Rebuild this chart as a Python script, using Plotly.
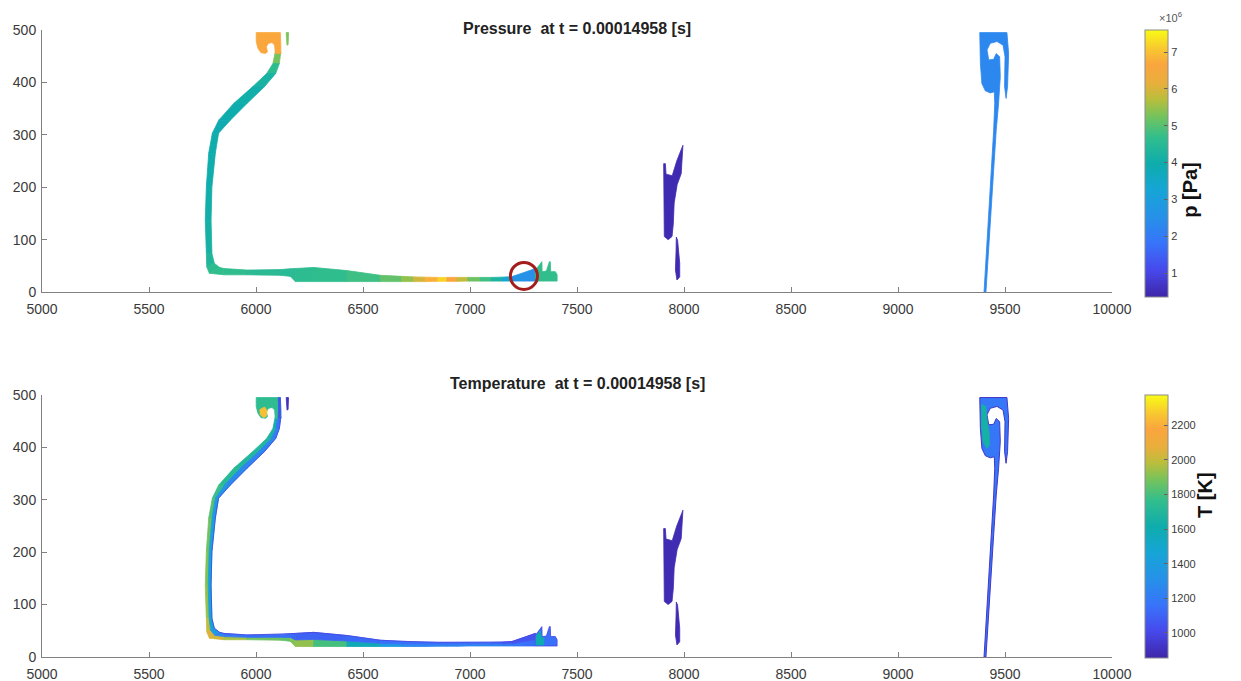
import plotly.graph_objects as go
from plotly.colors import sample_colorscale

# ---------------- colour map (MATLAB parula-like) ----------------
PARULA = [[0.00, 'rgb(62,38,168)'], [0.10, 'rgb(71,72,235)'], [0.20, 'rgb(56,115,250)'],
          [0.30, 'rgb(38,145,232)'], [0.40, 'rgb(22,165,215)'], [0.50, 'rgb(14,172,172)'],
          [0.60, 'rgb(50,190,140)'], [0.68, 'rgb(120,195,90)'], [0.74, 'rgb(185,190,60)'],
          [0.80, 'rgb(232,175,60)'], [0.87, 'rgb(250,165,62)'], [0.93, 'rgb(248,200,48)'],
          [1.00, 'rgb(249,251,21)']]

P_RANGE = [0.35, 7.6]        # pressure, x10^6 Pa
T_RANGE = [855, 2375]        # temperature, K
P_TICKS = [1, 2, 3, 4, 5, 6, 7]
T_TICKS = [1000, 1200, 1400, 1600, 1800, 2000, 2200]
X_TICKS = [5000, 5500, 6000, 6500, 7000, 7500, 8000, 8500, 9000, 9500, 10000]
X_LABELS = ['5000', '5500', '6000', '6500', '7000', '7500', '8000', '8500', '9000', '9500', '10000']
Y_TICKS = [0, 100, 200, 300, 400, 500]
TIME_S = "0.00014958"

# ---------------- main flame ribbon (outer edge A, inner edge B) ----------------
RIB_AX = [6090, 6079, 6050, 5985, 5896, 5826, 5796, 5779, 5768, 5763, 5768, 5770, 5782, 5850, 5958, 6114,
          6160, 6184, 6269, 6425, 6581, 6680, 6737, 6790, 6850, 6892, 6940, 6990, 7048, 7100, 7150, 7196,
          7250, 7305]
RIB_AY = [458, 436, 417, 392, 360, 328, 303, 265, 201, 137, 74, 48, 36, 33, 33, 32,
          30, 20, 20, 20, 20, 20, 20, 20, 20.5, 20.5, 20.5, 21, 21, 21, 21, 21,
          21, 21]
RIB_BX = [6116, 6109, 6092, 6040, 5958, 5880, 5825, 5810, 5794, 5790, 5794, 5805, 5830, 5850, 5958, 6114,
          6160, 6184, 6269, 6425, 6581, 6680, 6737, 6790, 6850, 6892, 6940, 6990, 7048, 7100, 7150, 7196,
          7250, 7305]
RIB_BY = [458, 436, 417, 392, 360, 328, 303, 265, 201, 137, 74, 55, 47, 45, 42, 43,
          44.5, 45, 47, 41, 32, 30, 29, 28.5, 28, 28, 28, 28, 28, 28, 28.5, 29.5,
          37, 45]
P_RIB = [5.6, 4.9, 4.3, 4.1, 4.0, 3.9, 3.9, 4.0, 4.0, 4.1, 4.2, 4.5, 4.7, 4.7, 4.6, 4.5,
         4.5, 4.6, 4.6, 4.7, 4.9, 5.3, 5.6, 6.3, 7.3, 7.1, 6.2, 5.4, 5.0, 4.6, 3.9, 2.8,
         2.5, 2.5]
T_RIB_A = [1550, 1650, 1700, 1700, 1700, 1750, 1800, 1850, 1900, 1900, 1950, 2050, 2050, 2000, 1900, 1850,
           1850, 1950, 1900, 1700, 1450, 1300, 1250, 1250, 1250, 1250, 1250, 1250, 1250, 1250, 1250, 1200,
           1150, 1150]
T_RIB_B = [1100, 1200, 1250, 1250, 1250, 1300, 1350, 1400, 1450, 1450, 1450, 1450, 1300, 1200, 1150, 1150,
           1150, 1100, 1100, 1100, 1150, 1150, 1150, 1150, 1150, 1150, 1150, 1150, 1150, 1150, 1100, 1050,
           1050, 1050]

# ---------------- other structures (outlines, data units) ----------------
HOOK_X = [6001, 6114, 6116, 6116, 6090, 6090, 6087, 6075, 6059, 6048, 6054, 6044, 6023, 6009, 6001]
HOOK_Y = [495, 495, 470, 455, 455, 462, 471, 476, 474.5, 468, 458.6, 455.4, 456.7, 465, 478]
HOOK_CORE_X = [6018, 6040, 6052, 6048, 6035, 6020]
HOOK_CORE_Y = [472, 477, 470, 459, 457, 462]
HOOK_EDGE_X = [6104, 6114, 6116, 6116, 6104, 6106]
HOOK_EDGE_Y = [495, 495, 470, 455, 455, 475]
P_HOOK, T_HOOK, T_HOOK_CORE, T_HOOK_EDGE = 6.7, 1750, 2250, 1050

SLIVER_X = [6141, 6152, 6150, 6145]
SLIVER_Y = [495, 495, 472, 471]
P_SLIVER, T_SLIVER = 5.3, 900

SPIKE_X = [7305, 7305, 7310, 7332, 7336, 7337, 7357, 7371, 7375, 7377, 7399, 7407, 7407]
SPIKE_Y = [21, 45, 44, 58, 58, 39, 40, 58, 58, 39, 39, 33, 21]
SPIKE_CORE_X = [7308, 7310, 7328, 7334, 7345, 7345]
SPIKE_CORE_Y = [23, 40, 50, 38, 36, 23]
P_SPIKE, T_SPIKE, T_SPIKE_CORE = 4.7, 1150, 1600

MID_BAR_X = [7905, 7913, 7916, 7945, 7966, 7995, 7987, 7968, 7954, 7950, 7944, 7926, 7908]
MID_BAR_Y = [245, 245, 225, 222, 250, 280, 226, 205, 170, 130, 106, 100, 106]
MID_LOW_X = [7964, 7970, 7980, 7980, 7967, 7960, 7963]
MID_LOW_Y = [105, 99, 55, 29, 23, 42, 80]
P_MID, T_MID = 0.45, 880

RIGHT_X = [9382, 9509, 9517, 9512, 9505, 9498, 9500, 9491, 9463, 9431, 9416, 9424, 9447, 9459, 9475, 9478,
           9470, 9459, 9447, 9431, 9419, 9411, 9402, 9410, 9422, 9436, 9447, 9452, 9450, 9431, 9408, 9392,
           9385, 9382]
RIGHT_Y = [495, 495, 455, 392, 369.5, 392, 449, 471, 478, 474.5, 462, 443, 444, 455, 449, 411,
           360, 309, 233, 137, 61, 0, 0, 61, 137, 233, 309, 360, 382, 380, 384, 398,
           436, 468]
RIGHT_PATCH_X = [9390, 9410, 9415, 9425, 9428, 9415, 9398, 9390]
RIGHT_PATCH_Y = [482, 478, 455, 430, 405, 398, 410, 440]
P_RIGHT, T_RIGHT, T_RIGHT_EDGE, T_RIGHT_PATCH = 2.3, 1180, 930, 1650

MARK_X, MARK_Y = [7252], [30.8]   # highlighted point (red circle)


def colour(v, rng):
    t = (v - rng[0]) / (rng[1] - rng[0])
    t = min(1.0, max(0.0, t))
    return sample_colorscale(PARULA, [t])[0]


fig = go.Figure()


def poly(xs, ys, v, rng, ax, edge=None, edgew=0.8):
    c = colour(v, rng)
    lc = colour(edge, rng) if edge is not None else c
    fig.add_trace(go.Scatter(x=list(xs) + [xs[0]], y=list(ys) + [ys[0]], mode='lines', fill='toself',
                             fillcolor=c, line=dict(color=lc, width=edgew), hoverinfo='skip',
                             showlegend=False, xaxis='x' + ax, yaxis='y' + ax))


def ribbon_pressure(ax):
    n = len(RIB_AX)
    for i in range(n - 1):
        xs = [RIB_AX[i], RIB_AX[i + 1], RIB_BX[i + 1], RIB_BX[i]]
        ys = [RIB_AY[i], RIB_AY[i + 1], RIB_BY[i + 1], RIB_BY[i]]
        poly(xs, ys, (P_RIB[i] + P_RIB[i + 1]) / 2, P_RANGE, ax)


def ribbon_temperature(ax):
    n = len(RIB_AX)
    mx = [(a + b) / 2 for a, b in zip(RIB_AX, RIB_BX)]
    my = [(a + b) / 2 for a, b in zip(RIB_AY, RIB_BY)]
    for i in range(n - 1):
        xs = [RIB_AX[i], RIB_AX[i + 1], mx[i + 1], mx[i]]
        ys = [RIB_AY[i], RIB_AY[i + 1], my[i + 1], my[i]]
        poly(xs, ys, (T_RIB_A[i] + T_RIB_A[i + 1]) / 2, T_RANGE, ax)
        xs = [mx[i], mx[i + 1], RIB_BX[i + 1], RIB_BX[i]]
        ys = [my[i], my[i + 1], RIB_BY[i + 1], RIB_BY[i]]
        poly(xs, ys, (T_RIB_B[i] + T_RIB_B[i + 1]) / 2, T_RANGE, ax)
    dark = colour(980, T_RANGE)
    fig.add_trace(go.Scatter(x=RIB_BX, y=RIB_BY, mode='lines', line=dict(color=dark, width=0.8),
                             hoverinfo='skip', showlegend=False, xaxis='x' + ax, yaxis='y' + ax))


# ---------- Pressure panel (axes x / y) ----------
ribbon_pressure('')
poly(HOOK_X, HOOK_Y, P_HOOK, P_RANGE, '')
poly(SLIVER_X, SLIVER_Y, P_SLIVER, P_RANGE, '')
poly(SPIKE_X, SPIKE_Y, P_SPIKE, P_RANGE, '')
poly(MID_BAR_X, MID_BAR_Y, P_MID, P_RANGE, '')
poly(MID_LOW_X, MID_LOW_Y, P_MID, P_RANGE, '')
poly(RIGHT_X, RIGHT_Y, P_RIGHT, P_RANGE, '')
fig.add_trace(go.Scatter(x=MARK_X, y=MARK_Y, mode='markers', hoverinfo='skip', showlegend=False,
                         marker=dict(symbol='circle-open', size=27, color='#a51c1c',
                                     line=dict(width=3, color='#a51c1c')), xaxis='x', yaxis='y'))
fig.add_trace(go.Scatter(x=[5000, 5000], y=[-100, -100], mode='markers', hoverinfo='skip', showlegend=False,
                         marker=dict(size=1, color=P_RANGE, coloraxis='coloraxis'), xaxis='x', yaxis='y'))

# ---------- Temperature panel (axes x2 / y2) ----------
ribbon_temperature('2')
poly(HOOK_X, HOOK_Y, T_HOOK, T_RANGE, '2')
poly(HOOK_CORE_X, HOOK_CORE_Y, T_HOOK_CORE, T_RANGE, '2')
poly(HOOK_EDGE_X, HOOK_EDGE_Y, T_HOOK_EDGE, T_RANGE, '2')
poly(SLIVER_X, SLIVER_Y, T_SLIVER, T_RANGE, '2')
poly(SPIKE_X, SPIKE_Y, T_SPIKE, T_RANGE, '2', edge=1000)
poly(SPIKE_CORE_X, SPIKE_CORE_Y, T_SPIKE_CORE, T_RANGE, '2')
poly(MID_BAR_X, MID_BAR_Y, T_MID, T_RANGE, '2')
poly(MID_LOW_X, MID_LOW_Y, T_MID, T_RANGE, '2')
poly(RIGHT_X, RIGHT_Y, T_RIGHT, T_RANGE, '2', edge=T_RIGHT_EDGE, edgew=1.0)
poly(RIGHT_PATCH_X, RIGHT_PATCH_Y, T_RIGHT_PATCH, T_RANGE, '2')
fig.add_trace(go.Scatter(x=[5000, 5000], y=[-100, -100], mode='markers', hoverinfo='skip', showlegend=False,
                         marker=dict(size=1, color=T_RANGE, coloraxis='coloraxis2'), xaxis='x2', yaxis='y2'))

# ---------------- layout ----------------
AX_COL = '#808080'
TICK_FONT = dict(family='Liberation Sans, Arial, sans-serif', size=14, color='#3a3a3a')


def xaxis(anchor):
    return dict(range=[5000, 10000], tickvals=X_TICKS, ticktext=X_LABELS, ticks='inside', ticklen=5,
                tickcolor=AX_COL, showline=True, linecolor=AX_COL, linewidth=1, showgrid=False,
                zeroline=False, tickfont=TICK_FONT, anchor=anchor, domain=[0, 1], fixedrange=True,
                ticklabelstandoff=4, automargin=False)


def yaxis(anchor, dom):
    return dict(range=[0, 500], tickvals=Y_TICKS, ticks='inside', ticklen=5, tickcolor=AX_COL,
                showline=True, linecolor=AX_COL, linewidth=1, showgrid=False, zeroline=False,
                tickfont=TICK_FONT, anchor=anchor, domain=dom, fixedrange=True, ticklabelstandoff=2,
                automargin=False)


def cbar(y, ln, ticks):
    return dict(x=1.0308, xanchor='left', y=y, yanchor='middle', len=ln, lenmode='pixels',
                thickness=23, thicknessmode='pixels', outlinecolor='#8c8c8c', outlinewidth=1,
                ticks='inside', ticklen=4, tickcolor='#606060', tickvals=ticks,
                tickfont=dict(family='Liberation Sans, Arial, sans-serif', size=11, color='#3a3a3a'),
                xpad=0, ypad=0)


fig.update_layout(
    width=1241, height=681,
    margin=dict(l=42, r=129, t=30, b=24, autoexpand=False),
    paper_bgcolor='white', plot_bgcolor='white',
    xaxis=xaxis('y'), yaxis=yaxis('x', [0.582, 1.0]),
    xaxis2=xaxis('y2'), yaxis2=yaxis('x2', [0.0, 0.418]),
    coloraxis=dict(colorscale=PARULA, cmin=P_RANGE[0], cmax=P_RANGE[1],
                   colorbar=cbar(0.787, 267, P_TICKS)),
    coloraxis2=dict(colorscale=PARULA, cmin=T_RANGE[0], cmax=T_RANGE[1],
                    colorbar=cbar(0.208, 263, T_TICKS)),
    annotations=[
        dict(text='<b>Pressure  at t = ' + TIME_S + ' [s]</b>', x=0.5, y=1.019, xref='paper', yref='paper',
             showarrow=False, font=dict(family='Liberation Sans, Arial', size=16, color='#222')),
        dict(text='<b>Temperature  at t = ' + TIME_S + ' [s]</b>', x=0.5, y=0.437, xref='paper', yref='paper',
             showarrow=False, font=dict(family='Liberation Sans, Arial', size=16, color='#222')),
        dict(text='<b>p [Pa]</b>', x=(1203 - 42) / 1070, y=0.793, xref='paper', yref='paper', textangle=-90,
             showarrow=False, font=dict(family='Liberation Sans, Arial', size=20, color='#111')),
        dict(text='<b>T [K]</b>', x=(1218 - 42) / 1070, y=0.2185, xref='paper', yref='paper', textangle=-90,
             showarrow=False, font=dict(family='Liberation Sans, Arial', size=20, color='#111')),
        dict(text='×10<sup>6</sup>', x=(1184 - 42) / 1070, y=1.035, xref='paper', yref='paper',
             showarrow=False, font=dict(family='Liberation Sans, Arial', size=11, color='#555')),
    ],
)

fig.write_html('out.html')
